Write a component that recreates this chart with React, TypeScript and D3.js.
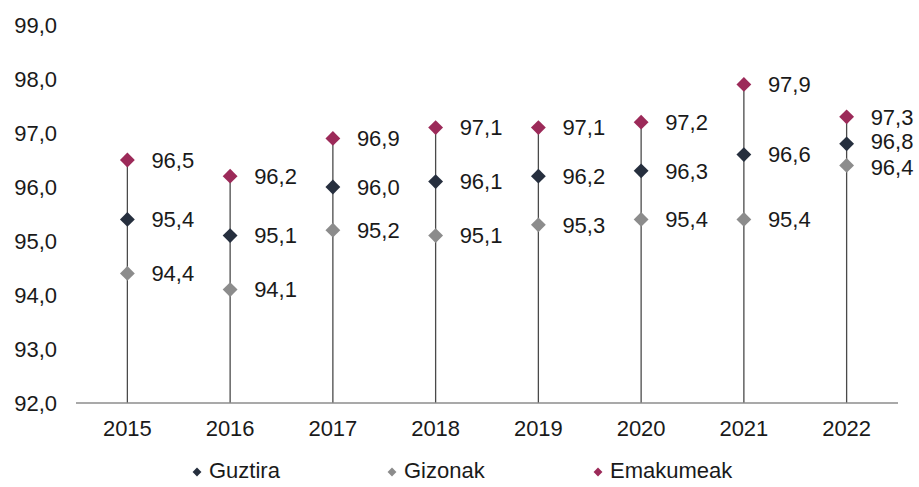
import React, { useRef, useEffect } from 'react';
import * as d3 from 'd3';

const years = ['2015', '2016', '2017', '2018', '2019', '2020', '2021', '2022'];
const guztira = [95.4, 95.1, 96.0, 96.1, 96.2, 96.3, 96.6, 96.8];
const gizonak = [94.4, 94.1, 95.2, 95.1, 95.3, 95.4, 95.4, 96.4];
const emakumeak = [96.5, 96.2, 96.9, 97.1, 97.1, 97.2, 97.9, 97.3];
const yTicks = [92, 93, 94, 95, 96, 97, 98, 99];

const seriesList = [
  { name: 'Guztira', values: guztira, color: '#262f3e' },
  { name: 'Gizonak', values: gizonak, color: '#8c8c8c' },
  { name: 'Emakumeak', values: emakumeak, color: '#9c2a59' },
];

const fmt = (v: number) => v.toFixed(1).replace('.', ',');

export default function App() {
  const ref = useRef<SVGSVGElement>(null);

  useEffect(() => {
    const width = 919;
    const height = 487;
    const svg = d3.select(ref.current);
    svg.selectAll('*').remove();

    const x = d3.scaleBand().domain(years).range([76, 898]);
    const y = d3.scaleLinear().domain([92, 99]).range([403, 25]);
    const cx = (yr: string) => x(yr)! + x.bandwidth() / 2;

    const g = svg.append('g')
      .attr('font-family', 'Liberation Sans, Arial, sans-serif')
      .attr('font-size', 22)
      .attr('fill', '#1a1a1a');

    // y tick labels
    g.append('g').selectAll('text')
      .data(yTicks)
      .enter()
      .append('text')
      .attr('x', 57)
      .attr('y', d => y(d))
      .attr('dy', '0.35em')
      .attr('text-anchor', 'end')
      .text(d => fmt(d));

    // stems
    g.append('g').selectAll('line')
      .data(years)
      .enter()
      .append('line')
      .attr('x1', d => cx(d))
      .attr('x2', d => cx(d))
      .attr('y1', y(92))
      .attr('y2', (d, i) => y(Math.max(guztira[i], gizonak[i], emakumeak[i])))
      .attr('stroke', '#4a4a4a')
      .attr('stroke-width', 1.3);

    // baseline axis
    g.append('line')
      .attr('x1', 76).attr('x2', 898)
      .attr('y1', y(92)).attr('y2', y(92))
      .attr('stroke', '#8c8c8c')
      .attr('stroke-width', 1.3);

    // x labels
    g.append('g').selectAll('text')
      .data(years)
      .enter()
      .append('text')
      .attr('x', d => cx(d))
      .attr('y', 428)
      .attr('dy', '0.35em')
      .attr('text-anchor', 'middle')
      .text(d => d);

    const diamond = d3.symbol().type(d3.symbolDiamond2).size(140);

    // markers
    [seriesList[1], seriesList[0], seriesList[2]].forEach(s => {
      g.append('g').selectAll('path')
        .data(s.values)
        .enter()
        .append('path')
        .attr('d', diamond)
        .attr('transform', (d, i) => `translate(${cx(years[i])},${y(d)})`)
        .attr('fill', s.color);
    });

    // value labels, pushed apart when they crowd one another
    const minGap = 26;
    const labels: { x: number; y: number; text: string }[] = [];
    years.forEach((yr, i) => {
      const col = seriesList
        .map(s => ({ x: cx(yr) + 24, y: y(s.values[i]), text: fmt(s.values[i]) }))
        .sort((a, b) => a.y - b.y);
      for (let k = 1; k < col.length; k++) {
        const gap = col[k].y - col[k - 1].y;
        if (gap < minGap) {
          const shift = (minGap - gap) / 2;
          col[k - 1].y -= shift;
          col[k].y += shift;
        }
      }
      labels.push(...col);
    });
    g.append('g').selectAll('text')
      .data(labels)
      .enter()
      .append('text')
      .attr('x', d => d.x)
      .attr('y', d => d.y)
      .attr('dy', '0.35em')
      .text(d => d.text);

    // legend
    const legendX = [197, 392, 598];
    const leg = g.append('g');
    seriesList.forEach((s, i) => {
      leg.append('path')
        .attr('d', d3.symbol().type(d3.symbolDiamond2).size(50)())
        .attr('transform', `translate(${legendX[i]},${472})`)
        .attr('fill', s.color);
      leg.append('text')
        .attr('x', legendX[i] + 12)
        .attr('y', 478)
        .text(s.name);
    });

    svg.attr('width', width).attr('height', height);
  }, []);

  return (
    <div style={{ position: 'absolute', left: 0, top: 0 }}>
      <svg ref={ref} style={{ display: 'block' }} />
    </div>
  );
}
